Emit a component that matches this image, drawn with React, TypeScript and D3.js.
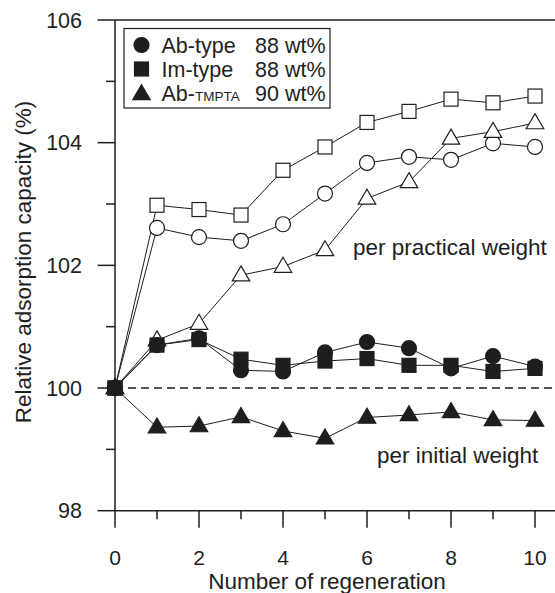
import React from "react";
import * as d3 from "d3";

const cycles = [0, 1, 2, 3, 4, 5, 6, 7, 8, 9, 10];
const abPractical = [100, 102.61, 102.46, 102.4, 102.67, 103.17, 103.67, 103.77, 103.72, 103.99, 103.93];
const imPractical = [100, 102.98, 102.91, 102.82, 103.55, 103.93, 104.33, 104.51, 104.71, 104.65, 104.76];
const tmPractical = [100, 100.78, 101.05, 101.84, 101.98, 102.25, 103.09, 103.36, 104.07, 104.18, 104.32];
const abInitial = [100, 100.7, 100.81, 100.29, 100.27, 100.58, 100.75, 100.65, 100.32, 100.52, 100.35];
const imInitial = [100, 100.7, 100.79, 100.47, 100.37, 100.44, 100.48, 100.37, 100.37, 100.27, 100.32];
const tmInitial = [100, 99.36, 99.38, 99.53, 99.3, 99.18, 99.52, 99.56, 99.61, 99.48, 99.47];
const yMajorTicks = [98, 100, 102, 104, 106];
const yMinorTicks = [99, 101, 103, 105];
const xMajorTicks = [0, 2, 4, 6, 8, 10];
const xMinorTicks = [1, 3, 5, 7, 9];

const INK = "#1e1e1e";
const FONT = "'Liberation Sans', Arial, Helvetica, sans-serif";

type Shape = "circle" | "square" | "triangle";

function Marker({ shape, cx, cy, filled }: { shape: Shape; cx: number; cy: number; filled: boolean }) {
  const fill = filled ? INK : "#fff";
  const sw = 1.2;
  if (shape === "circle") return <circle cx={cx} cy={cy} r={7.5} fill={fill} stroke={INK} strokeWidth={sw} />;
  if (shape === "square") return <rect x={cx - 7} y={cy - 7} width={14} height={14} fill={fill} stroke={INK} strokeWidth={sw} />;
  const h = 15;
  const w = 17.5;
  const p = `M${cx},${cy - h * 0.62} L${cx + w / 2},${cy + h * 0.38} L${cx - w / 2},${cy + h * 0.38} Z`;
  return <path d={p} fill={fill} stroke={INK} strokeWidth={sw} strokeLinejoin="miter" />;
}

export default function App() {
  const W = 555;
  const H = 593;
  const x = d3.scaleLinear().domain([0, 10]).range([115, 535]);
  const y = d3.scaleLinear().domain([98, 106]).range([510.7, 20]);
  const line = d3
    .line<number>()
    .x((_, i) => x(cycles[i]))
    .y((d) => y(d));

  const series: { data: number[]; shape: Shape; filled: boolean }[] = [
    { data: imPractical, shape: "square", filled: false },
    { data: abPractical, shape: "circle", filled: false },
    { data: tmPractical, shape: "triangle", filled: false },
    { data: tmInitial, shape: "triangle", filled: true },
    { data: abInitial, shape: "circle", filled: true },
    { data: imInitial, shape: "square", filled: true },
  ];

  const x0 = x(0);
  const yb = y(98);
  const yt = y(106);

  return (
    <svg width={W} height={H} style={{ position: "absolute", left: 0, top: 0, background: "#fff" }} fontFamily={FONT}>
      <rect x={0} y={0} width={W} height={H} fill="#fff" />
      {/* frame */}
      <line x1={x0} x2={W} y1={yt} y2={yt} stroke={INK} strokeWidth={1.5} />
      <line x1={x0} x2={W} y1={yb} y2={yb} stroke={INK} strokeWidth={1.5} />
      <line x1={x0} x2={x0} y1={yt} y2={yb} stroke={INK} strokeWidth={1.5} />
      {/* dashed reference */}
      <line x1={x0} x2={W} y1={y(100)} y2={y(100)} stroke={INK} strokeWidth={1.5} strokeDasharray="8,5" />
      {/* y ticks */}
      {yMajorTicks.map((t) => (
        <g key={"ym" + t}>
          <line x1={x0 - 17.5} x2={x0} y1={y(t)} y2={y(t)} stroke={INK} strokeWidth={1.5} />
          <text x={82} y={y(t)} dy="0.36em" textAnchor="end" fontSize={21.5} fill={INK}>
            {t}
          </text>
        </g>
      ))}
      {yMinorTicks.map((t) => (
        <line key={"yn" + t} x1={x0 - 9} x2={x0} y1={y(t)} y2={y(t)} stroke={INK} strokeWidth={1.5} />
      ))}
      {/* x ticks */}
      {xMajorTicks.map((t) => (
        <g key={"xm" + t}>
          <line x1={x(t)} x2={x(t)} y1={yb} y2={yb + 17} stroke={INK} strokeWidth={1.5} />
          <text x={x(t)} y={557} dy="0.36em" textAnchor="middle" fontSize={21} fill={INK}>
            {t}
          </text>
        </g>
      ))}
      {xMinorTicks.map((t) => (
        <line key={"xn" + t} x1={x(t)} x2={x(t)} y1={yb} y2={yb + 8.5} stroke={INK} strokeWidth={1.5} />
      ))}
      {/* axis titles */}
      <text x={327} y={581} dy="0.36em" textAnchor="middle" fontSize={22.5} fill={INK}>
        Number of regeneration
      </text>
      <text transform={`translate(30.5,262) rotate(-90)`} textAnchor="middle" fontSize={22.5} fill={INK}>
        Relative adsorption capacity (%)
      </text>
      {/* lines */}
      {series.map((s, i) => (
        <path key={"l" + i} d={line(s.data) || ""} fill="none" stroke={INK} strokeWidth={1} />
      ))}
      {/* markers */}
      {series.map((s, i) =>
        s.data.map((v, j) => <Marker key={"m" + i + "-" + j} shape={s.shape} cx={x(cycles[j])} cy={y(v)} filled={s.filled} />)
      )}
      {/* annotations */}
      <text x={353} y={247} dy="0.36em" fontSize={22.5} fill={INK}>
        per practical weight
      </text>
      <text x={377} y={455} dy="0.36em" fontSize={22.5} fill={INK}>
        per initial weight
      </text>
      {/* legend */}
      <rect x={124} y={28.5} width={206} height={79.5} fill="#fff" stroke={INK} strokeWidth={1.2} />
      <Marker shape="circle" cx={141.5} cy={45} filled={true} />
      <Marker shape="square" cx={141.5} cy={69} filled={true} />
      <Marker shape="triangle" cx={141.5} cy={94} filled={true} />
      <text x={161.5} y={45} dy="0.36em" fontSize={21.5} fill={INK}>Ab-type</text>
      <text x={161.5} y={69} dy="0.36em" fontSize={21.5} fill={INK}>Im-type</text>
      <text x={161.5} y={93} dy="0.36em" fontSize={21.5} fill={INK}>
        Ab-<tspan fontSize={13.5}>TMPTA</tspan>
      </text>
      <text x={255} y={45} dy="0.36em" fontSize={21.5} fill={INK}>88 wt%</text>
      <text x={255} y={69} dy="0.36em" fontSize={21.5} fill={INK}>88 wt%</text>
      <text x={255} y={93} dy="0.36em" fontSize={21.5} fill={INK}>90 wt%</text>
    </svg>
  );
}
